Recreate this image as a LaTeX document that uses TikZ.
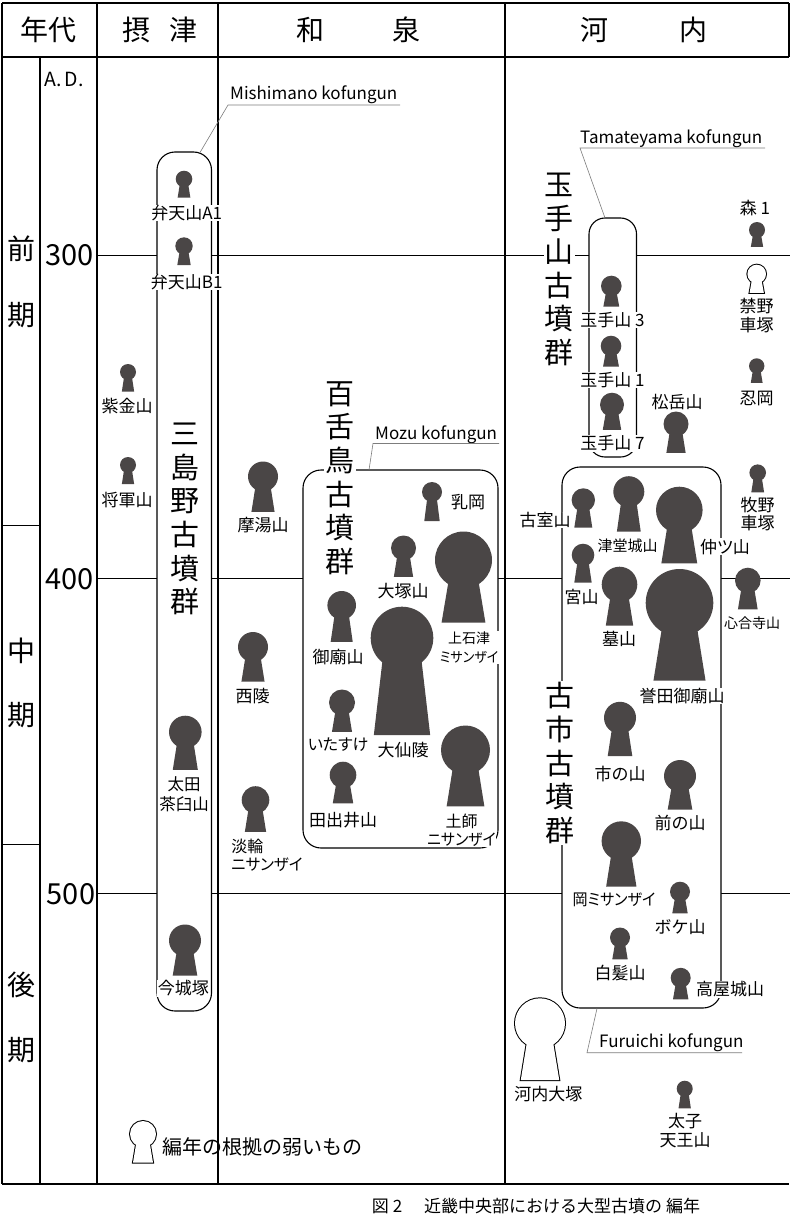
\documentclass[tikz,border=0pt]{standalone}
\usepackage{fontspec}
\usepackage{graphicx}
\setmainfont{Noto Sans CJK JP}
\usetikzlibrary{calc}
\definecolor{kfill}{RGB}{74,70,70}
\definecolor{leadgray}{RGB}{125,125,125}
\newcommand{\khF}[6]{%
  \fill[kfill] (#1,#2) circle[radius=#3];
  \fill[kfill] ({#1-#6*#3},#2) -- ({#1+#6*#3},#2) -- ({#1+#5*#3},{#2+#4*#3}) -- ({#1-#5*#3},{#2+#4*#3}) -- cycle;}
\newcommand{\kh}[4][2.3]{\khF{#2}{#3}{#4}{#1}{0.77}{0.4}}
\newcommand{\khO}[4][2.3]{%
  \draw[line width=2pt] (#2,#3) circle[radius=#4];
  \draw[line width=2pt] ({#2-0.4*#4},#3) -- ({#2+0.4*#4},#3) -- ({#2+0.77*#4},{#3+#1*#4}) -- ({#2-0.77*#4},{#3+#1*#4}) -- cycle;
  \fill[white] (#2,#3) circle[radius=#4];
  \fill[white] ({#2-0.4*#4},#3) -- ({#2+0.4*#4},#3) -- ({#2+0.77*#4},{#3+#1*#4}) -- ({#2-0.77*#4},{#3+#1*#4}) -- cycle;}
\newcommand{\narrow}[2]{\scalebox{#1}[1]{#2}}
\begin{document}
\begin{tikzpicture}[x=1pt,y=-1pt,
  lbl/.style={font=\fontsize{17}{19}\selectfont, fill=white, inner sep=0.6pt, align=center},
  kata/.style={font={\fontsize{16}{18}\selectfont\addfontfeature{RawFeature=+palt}}},
  grp/.style={font=\fontsize{29}{33.6}\selectfont, fill=white, inner sep=1.2pt, align=center},
  hdr/.style={font=\fontsize{28}{30}\selectfont, inner sep=0pt},
  num/.style={font=\fontsize{29}{30}\selectfont, inner sep=0pt},
  eng/.style={font=\fontsize{17}{20}\selectfont, anchor=base west, inner sep=0pt},
  frame/.style={line width=2pt, black},
  yearline/.style={line width=1pt, black},
  box/.style={line width=1.1pt, rounded corners=18, fill=white},
  lead/.style={line width=0.6pt, leadgray}]
\useasboundingbox (0,0) rectangle (790,1220);
\fill[white] (0,0) rectangle (790,1220);
% year lines
\draw[yearline] (97,255) -- (790,255);
\draw[yearline] (97,578) -- (790,578);
\draw[yearline] (97,893) -- (790,893);
\draw[yearline] (2,525) -- (40,525);
\draw[yearline] (2,844) -- (40,844);
% frame
\draw[frame] (2,3) -- (789,3);
\draw[frame,line width=2.4pt] (2,57) -- (789,57);
\draw[frame] (2,3) -- (2,1184);
\draw[frame] (2,1184) -- (789,1184);
\draw[frame,line width=1.6pt] (97,3) -- (97,1184);
\draw[frame,line width=1.6pt] (40,57) -- (40,1184);
\draw[frame,line width=1.1pt] (218,3) -- (218,1184);
\draw[frame,line width=1.1pt] (505,3) -- (505,1184);
\draw[frame,line width=1.1pt] (789,3) -- (789,57);
% boxes
\draw[box] (157,152) rectangle (211.5,1011);
\draw[box] (303,470) rectangle (498,848);
\draw[box] (562,467) rectangle (721,1008);
\draw[box,rounded corners=16] (589,218) rectangle (636.5,457);
% group names
\node[grp] (gMishima) at (185,519) {三\\島\\野\\古\\墳\\群};
\node[grp] (gMozu) at (340,478) {百\\舌\\鳥\\古\\墳\\群};
\node[grp] (gTamate) at (559.3,269.5) {玉\\手\\山\\古\\墳\\群};
\node[grp] (gFuruichi) at (560,763) {古\\市\\古\\墳\\群};
% keyholes: Settsu
\kh[2.25]{184}{179}{8.3}
\kh[2.2]{184}{246}{8.7}
\kh[2.45]{128}{372}{8}
\kh[2.4]{128}{465}{8}
\kh[2.33]{185.3}{732}{16.3}
\kh[2.2]{185}{940.5}{16}
% Izumi
\kh[2.35]{263}{476.5}{15}
\kh[2.3]{253}{647}{15}
\kh[2.3]{255.5}{800}{13.8}
\kh[2.9]{432}{492}{10}
\kh[2.3]{403.5}{548}{12.5}
\kh[2.2]{463.5}{560}{28.5}
\kh[2.55]{341.7}{605.3}{14.3}
\khF{402}{638}{31.3}{3.1}{0.9}{0.54}
\kh[2.25]{342}{702.5}{13}
\kh[2.13]{343}{775}{13.3}
\kh[2.3]{465.5}{750}{24.5}
% Kawachi
\kh[2.1]{757}{230}{8}
\khO[2.04]{756.7}{274}{9.3}
\kh[2.2]{756.7}{366}{7.7}
\kh[2.3]{676}{424}{12.5}
\kh[2.0]{611.3}{286}{10.3}
\kh[2.0]{611}{346}{10.3}
\kh[2.1]{612}{404.7}{12}
\kh[2.37]{583.3}{500}{11.7}
\kh[2.58]{628.8}{491.7}{15.5}
\kh[2.29]{679.3}{510}{23.3}
\kh[2.45]{583}{555}{11.3}
\kh[2.31]{619.5}{584.5}{17.8}
\kh[2.3]{679.5}{602.8}{33.8}
\kh[2.25]{747.8}{580.5}{12.8}
\kh[2.36]{757.7}{472.7}{8.3}
\kh[2.4]{620}{717.8}{16}
\kh[2.1]{680}{776}{16}
\kh[2.32]{621.3}{841}{19.7}
\kh[2.16]{680}{891.7}{10}
\kh[2.18]{620}{937.5}{10}
\kh[2.15]{680.7}{977.8}{10}
\khO[2.27]{540}{1023.3}{25}
\kh[2.45]{684.7}{1088.7}{8}
% legend keyhole
\khO[2.2]{143}{1134}{13}
% labels Settsu
\node[lbl] (lBenA) at (186.7,213) {弁天山A1};
\node[lbl] (lBenB) at (186.7,282) {弁天山B1};
\node[lbl] (lShikin) at (127,406) {紫金山};
\node[lbl] (lShogun) at (127,500) {将軍山};
\node[lbl,font=\fontsize{16.5}{20}\selectfont] (lOta) at (184,794) {太田\\茶臼山};
\node[lbl] (lImashiro) at (183.3,988.5) {今城塚};
% labels Izumi
\node[lbl] (lMayu) at (263,525) {摩湯山};
\node[lbl] (lNishi) at (252.5,696) {西陵};
\node[lbl,kata,fill=none,anchor=west,align=left] (lTanowa) at (230.5,855) {淡輪\\\narrow{0.97}{ニサンザイ}};
\node[lbl] (lChino) at (468,502) {乳岡};
\node[lbl] (lOtsuka) at (403,590.7) {大塚山};
\node[lbl,font={\fontsize{14}{19}\selectfont\addfontfeature{RawFeature=+palt}}] (lKamiishi) at (469,647.5) {上石津\\\narrow{0.93}{ミサンザイ}};
\node[lbl] (lGobyoM) at (338,657) {御廟山};
\node[lbl] (lDaisen) at (403,750) {大仙陵};
\node[lbl,kata] (lItasuke) at (338,745) {いたすけ};
\node[lbl] (lTadei) at (343,820) {田出井山};
\node[lbl,kata] (lHaji) at (461.5,830) {土師\\\narrow{0.93}{ニサンザイ}};
% labels Kawachi
\node[lbl] (lMori) at (755,208.3) {森 1};
\node[lbl] (lKinya) at (756.7,315.5) {禁野\\車塚};
\node[lbl] (lShinobu) at (756.7,398.3) {忍岡};
\node[lbl] (lMatsu) at (677,402.3) {松岳山};
\node[lbl] (lTam3) at (612.5,320) {玉手山 3};
\node[lbl] (lTam1) at (612.5,380) {玉手山 1};
\node[lbl] (lTam7) at (612.5,443.3) {玉手山 7};
\node[lbl] (lFuru) at (545,520) {古室山};
\node[lbl,font=\fontsize{15}{18}\selectfont] (lTsudo) at (627.7,545.7) {津堂城山};
\node[lbl,font={\fontsize{17}{19}\selectfont\addfontfeature{RawFeature=+palt}}] (lNakatsu) at (725,546.7) {仲ツ山};
\node[lbl] (lMiya) at (581.7,596.7) {宮山};
\node[lbl] (lHaka) at (619,639) {墓山};
\node[lbl] (lKonda) at (682,696) {誉田御廟山};
\node[lbl,font=\fontsize{14}{18}\selectfont] (lShion) at (752,622.7) {心合寺山};
\node[lbl,font=\fontsize{17}{17.7}\selectfont] (lHirakata) at (757.7,514) {牧野\\車塚};
\node[lbl] (lIchi) at (620,774) {市の山};
\node[lbl] (lMae) at (680,823.3) {前の山};
\node[lbl,kata] (lOka) at (614,900) {\narrow{0.94}{岡ミサンザイ}};
\node[lbl] (lBoke) at (680,926.7) {ボケ山};
\node[lbl] (lShira) at (620,973.3) {白髪山};
\node[lbl] (lTakaya) at (730,989.3) {高屋城山};
\node[lbl] (lKawachi) at (548.3,1094.3) {河内大塚};
\node[lbl] (lTaishi) at (685,1130.5) {太子\\天王山};
\node[anchor=west, inner sep=0pt, font=\fontsize{20}{22}\selectfont] (legend) at (162,1147) {編年の根拠の弱いもの};
% english group labels with underline and leader
\node[eng] (eMishima) at (230,99.5) {Mishimano kofungun};
\node[eng] (eMozu) at (375,439.5) {Mozu kofungun};
\node[eng] (eTamate) at (580,143.5) {Tamateyama kofungun};
\node[eng] (eFuruichi) at (599,1047.5) {Furuichi kofungun};
\coordinate (uMa) at (228,105); \coordinate (uMb) at (400,105); \coordinate (bM) at (200,152.5);
\coordinate (uZa) at (373,443.5); \coordinate (uZb) at (499,443.5); \coordinate (bZ) at (369,470);
\coordinate (uTa) at (580,148); \coordinate (uTb) at (765,148); \coordinate (bT) at (605,218);
\coordinate (uFa) at (587,1052.7); \coordinate (uFb) at (742,1052.7); \coordinate (bF) at (597,1008.5);
\draw[lead] (uMb) -- (uMa) -- (bM);
\draw[lead] (uZb) -- (uZa) -- (bZ);
\draw[lead] (uTb) -- (uTa) -- (bT);
\draw[lead] (uFb) -- (uFa) -- (bF);
% header
\node[hdr] (hNendai) at (48,30) {年代};
\node[hdr] (hSettsu) at (160,30) {摂\hspace{20pt}津};
\node[hdr] (hIzumi) at (358.5,30) {和\hspace{69pt}泉};
\node[hdr] (hKawachi) at (644,30) {河\hspace{71pt}内};
% periods
\node[hdr] (pZen1) at (21.5,249) {前};
\node[hdr] (pZen2) at (21.5,315) {期};
\node[hdr] (pChu1) at (21.5,651) {中};
\node[hdr] (pChu2) at (21.5,715) {期};
\node[hdr] (pKo1) at (21.5,985) {後};
\node[hdr] (pKo2) at (21.5,1050) {期};
% years
\node[num,font=\fontsize{19.5}{24}\selectfont] (yAD) at (64,79.5) {A.\,D.};
\node[num] (y300) at (69.5,255.5) {300};
\node[num] (y400) at (69.5,579) {400};
\node[num] (y500) at (71,893.7) {500};
% caption
\node[inner sep=0pt, font=\fontsize{17}{18}\selectfont] (caption) at (536,1206) {図 2\hspace{22pt}近畿中央部における大型古墳の 編年};
\end{tikzpicture}
\end{document}
